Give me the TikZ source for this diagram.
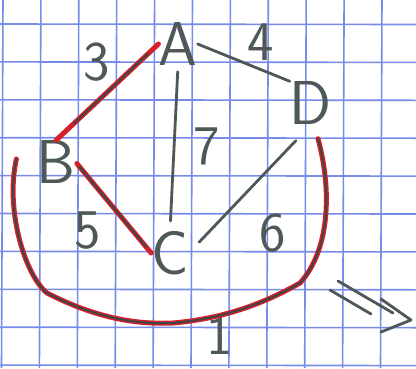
\documentclass[tikz,border=0pt]{standalone}
\usepackage{fontspec}
\definecolor{pencilc}{RGB}{78,88,88}
\definecolor{redc}{RGB}{214,32,42}
\definecolor{gridc}{RGB}{118,140,232}
\tikzset{
  pencil/.style={draw=pencilc, line width=2.8pt, line cap=round, line join=round},
  redline/.style={draw=redc, line width=5pt, line cap=round},
  core/.style={draw=pencilc!80!black, line width=2pt, line cap=round},
  vertex/.style={font=\sffamily\fontsize{62}{62}\selectfont, text=pencilc, inner sep=0pt},
  weight/.style={font=\sffamily\fontsize{56}{56}\selectfont, text=pencilc, inner sep=0pt},
  gridline/.style={draw=gridc, line width=1.6pt}
}
\begin{document}
\begin{tikzpicture}[x=1pt,y=-1pt]
\fill[white] (0,0) rectangle (416,368);
\useasboundingbox (0,0) rectangle (416,368);
% squared paper
\foreach \k in {0,...,10} {
  \draw[gridline] ({3+37.9*\k},0) -- ({1.5+37.9*\k},368);
}
\foreach \k in {0,...,9} {
  \draw[gridline] (0,{24+37.9*\k}) -- (416,{24.5+37.9*\k});
}
% vertices
\node[vertex] (A) at (178,44) {A};
\node[vertex] (B) at (56,162) {B};
\node[vertex] (C) at (170,253) {C};
\node[vertex] (D) at (311,103) {D};
% weights
\node[weight] (w3) at (97,62) {3};
\node[weight] (w4) at (261,42) {4};
\node[weight] (w7) at (207,146) {7};
\node[weight] (w5) at (88,231) {5};
\node[weight] (w6) at (273,233) {6};
\node[weight] (w1) at (220,336) {1};
% edges
\draw[redline] (A.west) -- (B.north);
\draw[core, shorten <=14pt, shorten >=25pt] (A.west) -- (B.north);
\draw[pencil] (A.east) -- (D.north west);
\draw[pencil, shorten <=6pt, shorten >=10pt] (A.south) -- (C.north);
\draw[redline, shorten <=2pt] (B.east) -- (C.west);
\draw[core, shorten <=6pt, shorten >=8pt] (B.east) -- (C.west);
\draw[pencil, shorten <=15pt, shorten >=22pt] (C.east) -- (D.south);
\draw[core, preaction={redline}]
  ([xshift=-20pt,yshift=3pt]B.west) .. controls (5,210) and (25,275) .. (47,293)
  .. controls (90,315) and (130,325) .. (173,323)
  .. controls (230,318) and (270,300) .. (300,283)
  .. controls (330,250) and (332,190) .. ([xshift=7pt,yshift=-14pt]D.south);
% double arrow
\draw[pencil] (338,281) -- (393,313);
\draw[pencil] (330,290) -- (371,314);
\draw[pencil] (381,299) -- (411,320) -- (381,332);
\end{tikzpicture}
\end{document}
